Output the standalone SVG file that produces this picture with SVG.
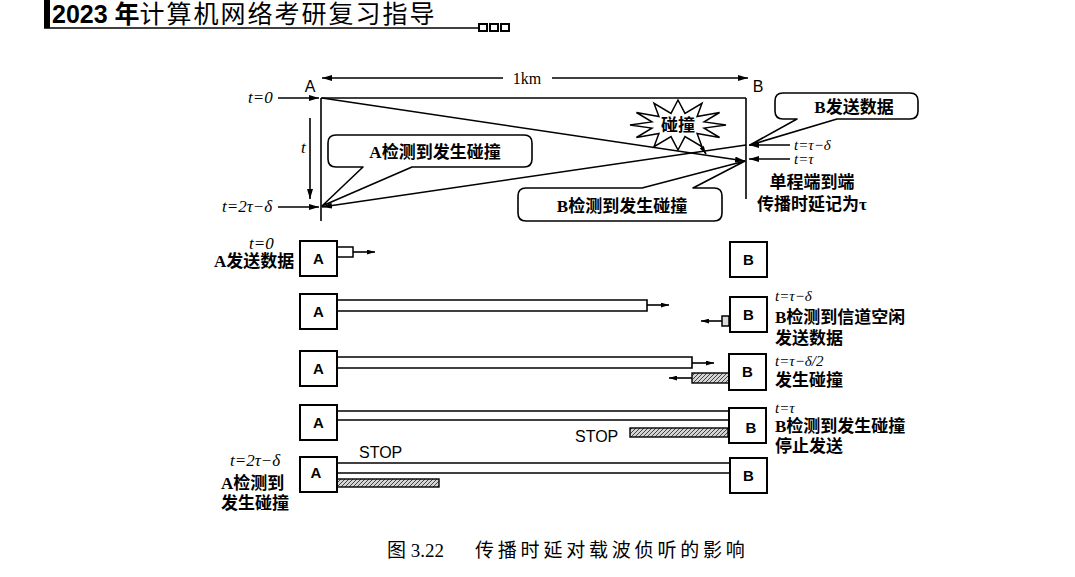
<svg xmlns="http://www.w3.org/2000/svg" width="1075" height="577" viewBox="0 0 1075 577">
<defs>
<marker id="arr" viewBox="0 0 10 6" refX="10" refY="3" markerWidth="10" markerHeight="6" markerUnits="userSpaceOnUse" orient="auto"><path d="M0,0 L10,3 L0,6 Z" fill="#000"/></marker>
<marker id="arrs" viewBox="0 0 10 6" refX="10" refY="3" markerWidth="8" markerHeight="5" markerUnits="userSpaceOnUse" orient="auto"><path d="M0,0 L10,3 L0,6 Z" fill="#000"/></marker>
<pattern id="hatch" width="4" height="4" patternUnits="userSpaceOnUse"><rect width="4" height="4" fill="#d4d4d4"/><path d="M0,4 L4,0" stroke="#444" stroke-width="1"/></pattern>
<style>
.ln{stroke:#000;stroke-width:1.6;fill:none}
.bx{stroke:#000;stroke-width:2;fill:#fff}
.co{stroke:#000;stroke-width:1.6;fill:#fff;stroke-linejoin:round}
.ht{stroke:#000;stroke-width:1.4;fill:url(#hatch)}
.cj{font-family:"Liberation Serif","Noto Sans CJK SC",serif;font-weight:bold;font-size:17px;fill:#000}
.sa{font-family:"Liberation Sans","Noto Sans CJK SC",sans-serif;font-size:16px;fill:#000}
.nd{font-family:"Liberation Sans",sans-serif;font-weight:bold;font-size:15px;fill:#000;text-anchor:middle}
.tl{font-family:"Liberation Serif",serif;font-style:italic;font-size:17px;fill:#000}
.ts{font-family:"Liberation Serif",serif;font-style:italic;font-size:15px;fill:#000}
</style>
</defs>
<rect width="1075" height="577" fill="#fff"/>

<g id="header">
<rect x="44" y="0" width="6" height="28" fill="#000"/>
<text x="52" y="23" font-family="Liberation Sans,Noto Sans CJK SC,sans-serif" font-size="25" font-weight="bold">2023 年<tspan font-weight="normal" letter-spacing="2">计算机网络考研复习指导</tspan></text>
<line x1="44" y1="28" x2="478" y2="28" stroke="#000" stroke-width="1.6"/>
<rect x="479" y="24" width="8" height="7" fill="none" stroke="#000" stroke-width="2"/>
<rect x="490" y="24" width="8" height="7" fill="none" stroke="#000" stroke-width="2"/>
<rect x="501" y="24" width="8" height="7" fill="none" stroke="#000" stroke-width="2"/>
</g>

<g id="connectors">
<line class="ln" x1="503" y1="78" x2="322" y2="78" marker-end="url(#arr)"/>
<line class="ln" x1="552" y1="78" x2="748" y2="78" marker-end="url(#arr)"/>
<line class="ln" x1="321" y1="98" x2="321" y2="221"/>
<line class="ln" x1="321" y1="98" x2="746" y2="98"/>
<line class="ln" x1="746" y1="98" x2="746" y2="199"/>
<line class="ln" x1="322" y1="98" x2="745" y2="161" marker-end="url(#arr)"/>
<line class="ln" x1="746" y1="145" x2="322" y2="207" marker-end="url(#arr)"/>
<line class="ln" x1="278" y1="98" x2="319" y2="98" marker-end="url(#arr)"/>
<line class="ln" x1="278" y1="207" x2="319" y2="207" marker-end="url(#arr)"/>
<line class="ln" x1="310" y1="118" x2="310" y2="199" marker-end="url(#arr)"/>
<line class="ln" x1="790" y1="145" x2="749" y2="145" marker-end="url(#arr)"/>
<line class="ln" x1="790" y1="159" x2="749" y2="159" marker-end="url(#arr)"/>
<line class="ln" x1="701" y1="146" x2="706" y2="154" marker-end="url(#arrs)"/>

<rect x="337" y="247" width="16" height="10" fill="#fff" stroke="#000" stroke-width="1.5"/>
<line class="ln" x1="353" y1="252" x2="375" y2="252" marker-end="url(#arrs)"/>
<path class="ln" d="M337,300 L647,300 L647,311 L337,311"/>
<line class="ln" x1="647" y1="305" x2="669" y2="305" marker-end="url(#arrs)"/>
<rect x="722" y="316" width="7" height="10" fill="#ddd" stroke="#000" stroke-width="1.5"/>
<line class="ln" x1="722" y1="321" x2="701" y2="321" marker-end="url(#arrs)"/>
<path class="ln" d="M337,357 L692,357 L692,368 L337,368"/>
<line class="ln" x1="692" y1="363" x2="714" y2="363" marker-end="url(#arrs)"/>
<rect class="ht" x="692" y="373" width="37" height="10"/>
<line class="ln" x1="692" y1="378" x2="669" y2="378" marker-end="url(#arrs)"/>
<line class="ln" x1="337" y1="411" x2="730" y2="411"/>
<line class="ln" x1="337" y1="420" x2="745" y2="420" marker-end="url(#arr)"/>
<rect class="ht" x="630" y="428" width="98" height="9"/>
<line class="ln" x1="337" y1="463" x2="730" y2="463"/>
<line class="ln" x1="337" y1="473" x2="730" y2="473"/>
<rect class="ht" x="337" y="479" width="102" height="8"/>
<line class="ln" x1="337" y1="483" x2="319" y2="483" marker-end="url(#arrs)"/>
</g>

<g id="labels">
<text class="sa" x="310" y="92" text-anchor="middle">A</text>
<text class="sa" x="758" y="92" text-anchor="middle">B</text>
<text x="527" y="84" font-family="Liberation Serif,serif" font-size="16" text-anchor="middle">1km</text>
<text class="tl" x="248" y="103">t=0</text>
<text class="tl" x="301" y="153">t</text>
<text class="tl" x="222" y="212">t=2τ−δ</text>
<text class="ts" x="794" y="150">t=τ−δ</text>
<text class="ts" x="794" y="164">t=τ</text>
<text class="cj" x="812" y="188" text-anchor="middle">单程端到端</text>
<text class="cj" x="812" y="210" text-anchor="middle">传播时延记为τ</text>
</g>

<g id="collision">
<polygon points="726,125 704.1,128.1 719.6,137.5 697.1,133.5 702,146.7 685,136.6 678,150 671,136.6 654,146.7 658.9,133.5 636.4,137.5 651.9,128.1 630,125 651.9,121.9 636.4,112.5 658.9,116.5 654,103.3 671,113.4 678,100 685,113.4 702,103.3 697.1,116.5 719.6,112.5 704.1,121.9" fill="#fff" stroke="#000" stroke-width="1.5" stroke-linejoin="miter"/>
<text class="cj" x="678" y="131" text-anchor="middle" font-size="16">碰撞</text>
</g>

<g id="callout-a">
<path class="co" d="M363,167 L336,167 Q328,167 328,159 L328,143 Q328,135 336,135 L524,135 Q532,135 532,143 L532,159 Q532,167 524,167 L412,167 L322,206 Z"/>
<text class="cj" x="435" y="158" text-anchor="middle">A检测到发生碰撞</text>
</g>
<g id="callout-b-send">
<path class="co" d="M797,119 L783,119 Q775,119 775,111 L775,101 Q775,93 783,93 L910,93 Q918,93 918,101 L918,111 Q918,119 910,119 L837,119 L750,145 Z"/>
<text class="cj" x="854" y="113" text-anchor="middle">B发送数据</text>
</g>
<g id="callout-b-detect">
<path class="co" d="M642,188 L526,188 Q518,188 518,196 L518,213 Q518,221 526,221 L714,221 Q722,221 722,213 L722,196 Q722,188 714,188 L693,188 L745,161 Z"/>
<text class="cj" x="622" y="212" text-anchor="middle">B检测到发生碰撞</text>
</g>

<g id="row1">
<g id="a1"><rect class="bx" x="300" y="241" width="37" height="35"/><text class="nd" x="318.5" y="264">A</text></g>
<g id="b1"><rect class="bx" x="730" y="242" width="37" height="35"/><text class="nd" x="748.5" y="265">B</text></g>
<text class="tl" x="249" y="249">t=0</text>
<text class="cj" x="214" y="267">A发送数据</text>
</g>
<g id="row2">
<g id="a2"><rect class="bx" x="300" y="294" width="37" height="35"/><text class="nd" x="318.5" y="317">A</text></g>
<g id="b2"><rect class="bx" x="730" y="297" width="37" height="35"/><text class="nd" x="748.5" y="320">B</text></g>
<text class="ts" x="775" y="301">t=τ−δ</text>
<text class="cj" x="775" y="323">B检测到信道空闲</text>
<text class="cj" x="775" y="344">发送数据</text>
</g>
<g id="row3">
<g id="a3"><rect class="bx" x="300" y="351" width="37" height="35"/><text class="nd" x="318.5" y="374">A</text></g>
<g id="b3"><rect class="bx" x="729" y="354" width="37" height="36"/><text class="nd" x="747.5" y="377">B</text></g>
<text class="ts" x="775" y="366">t=τ−δ/2</text>
<text class="cj" x="775" y="386">发生碰撞</text>
</g>
<g id="row4">
<g id="a4"><rect class="bx" x="300" y="405" width="37" height="35"/><text class="nd" x="318.5" y="428">A</text></g>
<g id="b4"><rect class="bx" x="729" y="408" width="37" height="35" fill="none"/><text class="nd" x="751" y="433">B</text></g>
<text class="sa" x="575" y="442">STOP</text>
<text class="ts" x="775" y="413" font-size="12">t=τ</text>
<text class="cj" x="775" y="432">B检测到发生碰撞</text>
<text class="cj" x="775" y="452">停止发送</text>
</g>
<g id="row5">
<g id="a5"><rect class="bx" x="300" y="457" width="37" height="35" fill="none"/><text class="nd" x="316" y="478">A</text></g>
<g id="b5"><rect class="bx" x="730" y="458" width="37" height="35"/><text class="nd" x="748.5" y="481">B</text></g>
<text class="sa" x="359" y="458">STOP</text>
<text class="tl" x="230" y="466">t=2τ−δ</text>
<text class="cj" x="221" y="489">A检测到</text>
<text class="cj" x="221" y="509">发生碰撞</text>
</g>

<g id="caption">
<text x="387" y="557" font-family="Liberation Serif,Noto Sans CJK SC,serif" font-size="19">图 3.22</text>
<text x="475" y="557" font-family="Noto Sans CJK SC,sans-serif" font-size="19" letter-spacing="3.8">传播时延对载波侦听的影响</text>
</g>
</svg>
